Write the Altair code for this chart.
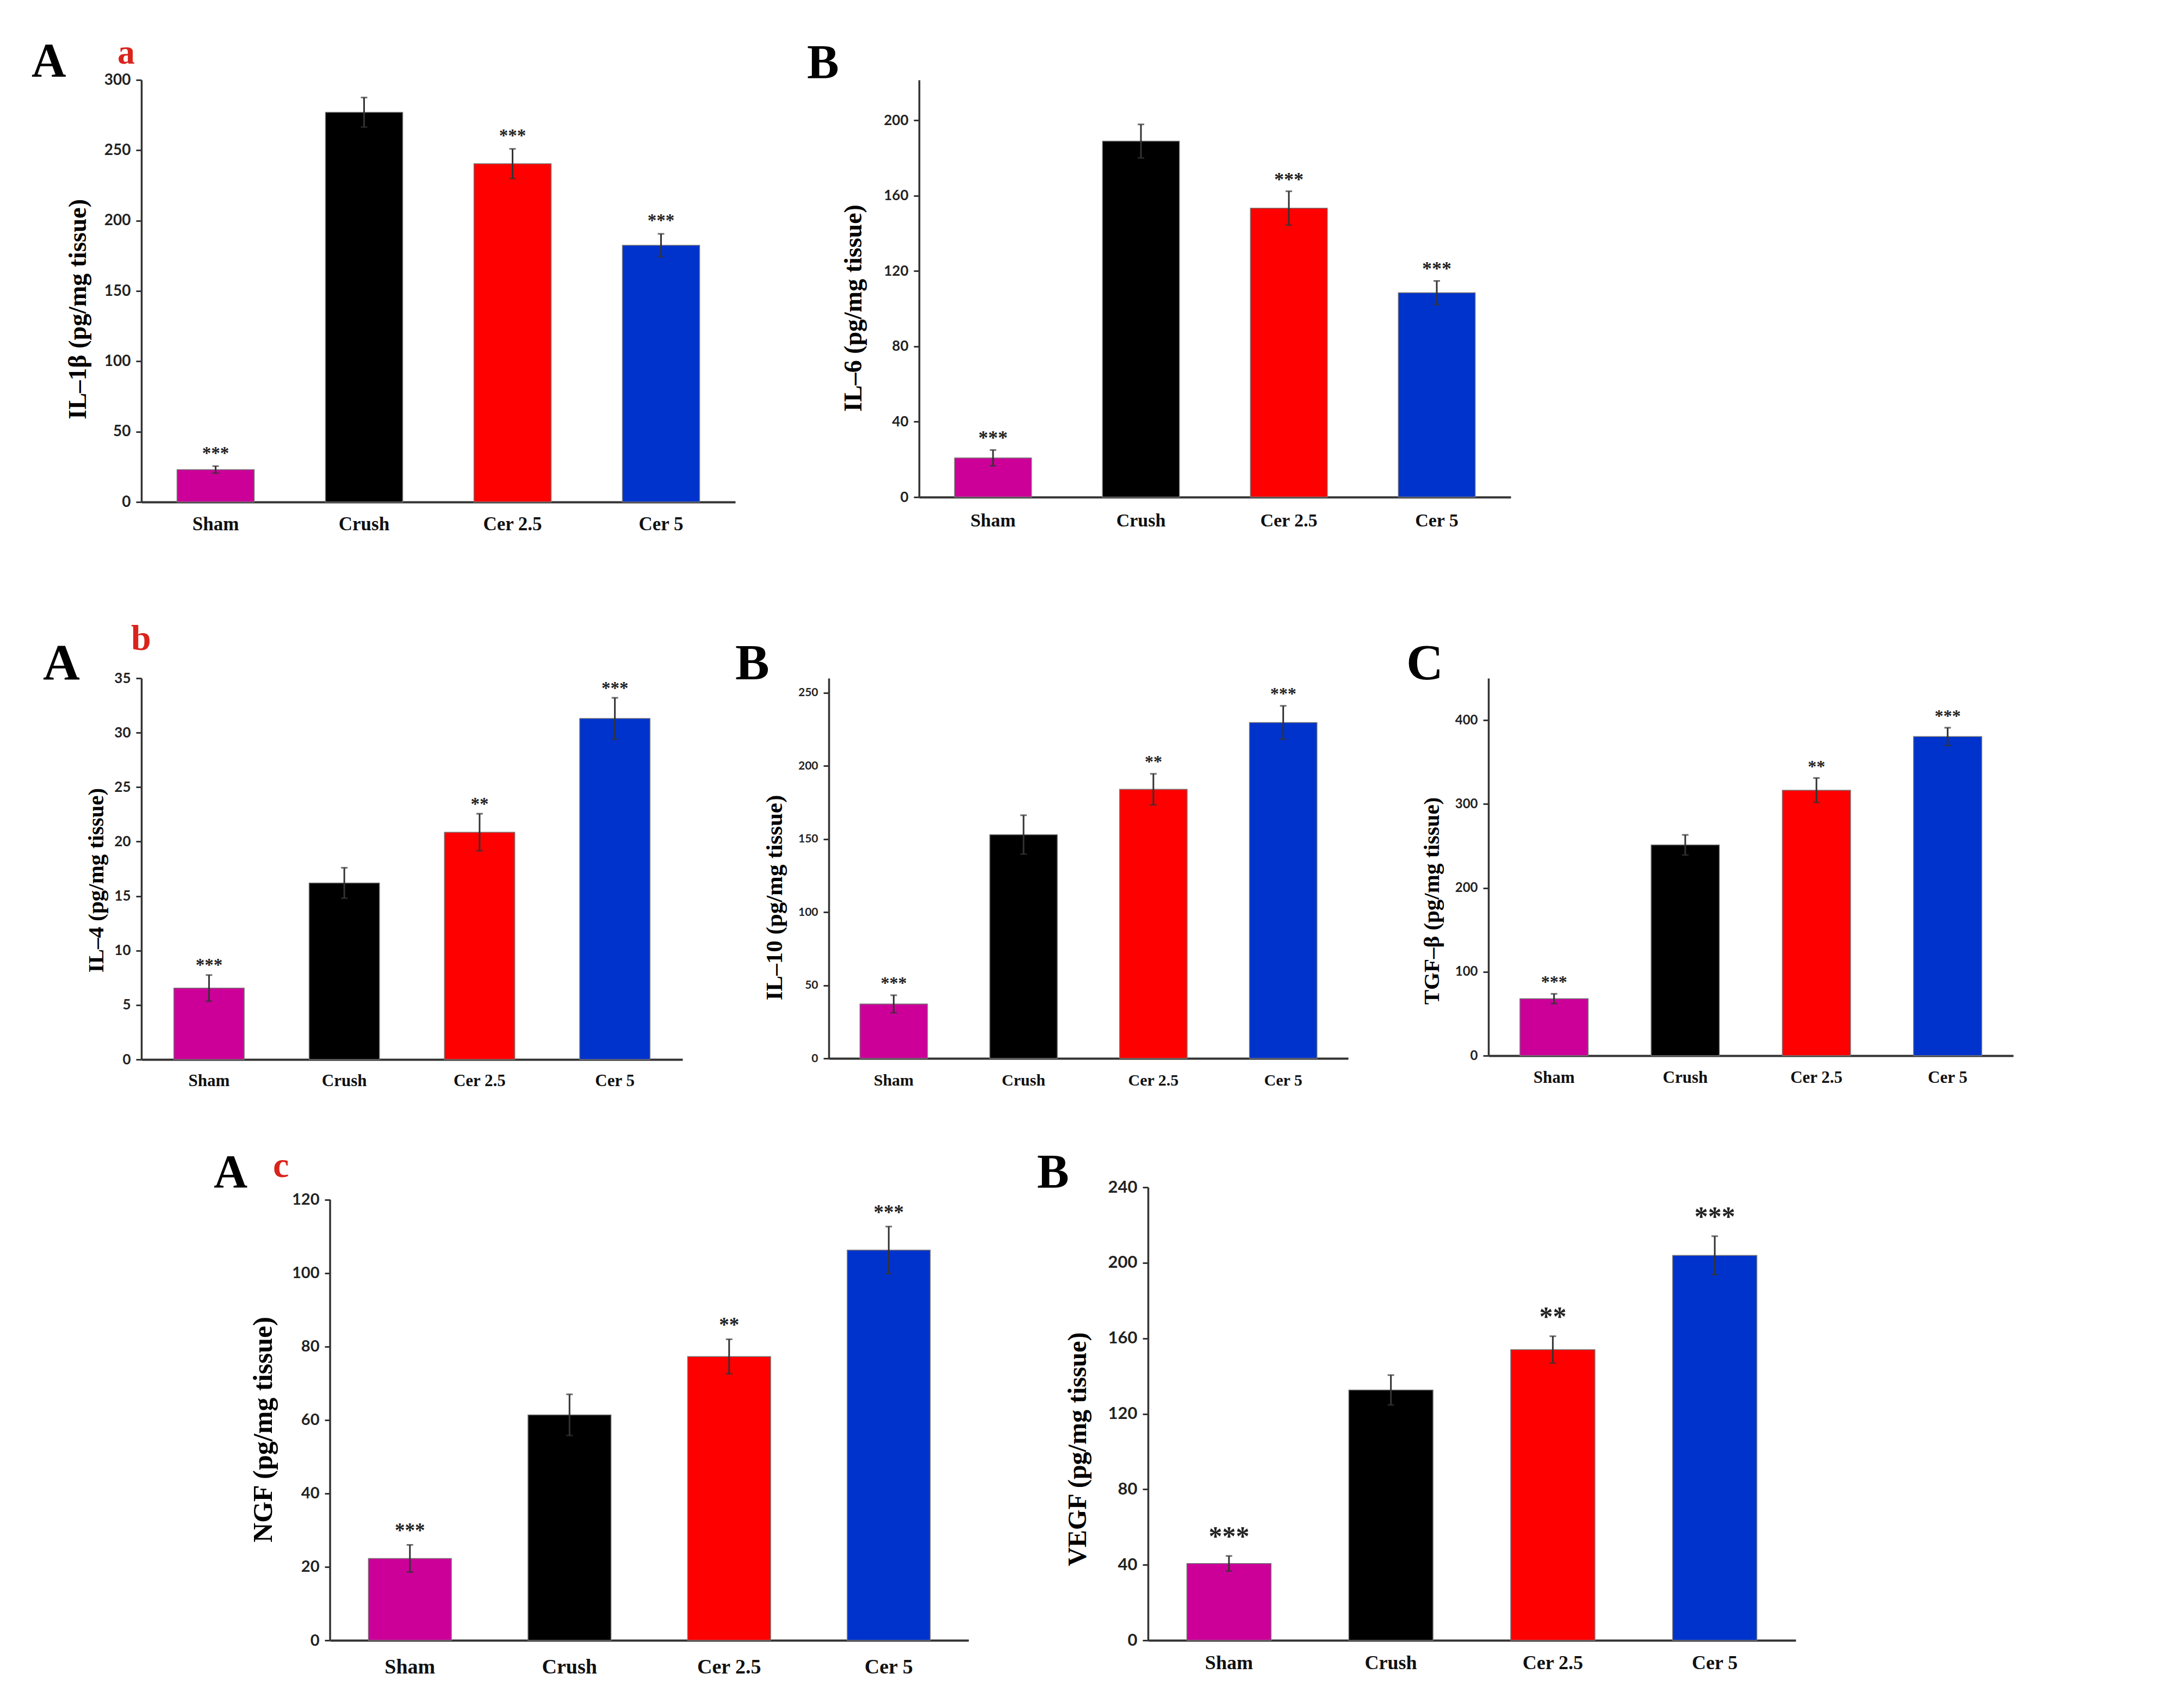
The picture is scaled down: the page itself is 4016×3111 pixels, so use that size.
import altair as alt
import pandas as pd

groups = ["Sham", "Crush", "Cer 2.5", "Cer 5"]
bar_colors = ["#CC0099", "#000000", "#FF0000", "#0033CC"]

il1b_mean = [23, 277, 240.5, 182.5]
il1b_sem = [2.5, 10.5, 10.5, 8.1]
il1b_sig = ["***", "", "***", "***"]

il6_mean = [20.8, 189, 153.4, 108.5]
il6_sem = [4.2, 8.9, 9.0, 6.3]
il6_sig = ["***", "", "***", "***"]

il4_mean = [6.55, 16.2, 20.86, 31.3]
il4_sem = [1.2, 1.4, 1.7, 1.9]
il4_sig = ["***", "", "**", "***"]

il10_mean = [37.2, 153, 184, 229.7]
il10_sem = [6.0, 13.3, 10.6, 11.4]
il10_sig = ["***", "", "**", "***"]

tgfb_mean = [67.9, 251.2, 316.5, 380.4]
tgfb_sem = [5.8, 12.0, 14.5, 10.6]
tgfb_sig = ["***", "", "**", "***"]

ngf_mean = [22.3, 61.4, 77.3, 106.3]
ngf_sem = [3.7, 5.6, 4.7, 6.4]
ngf_sig = ["***", "", "**", "***"]

vegf_mean = [40.7, 132.6, 154, 203.9]
vegf_sem = [4.0, 7.9, 7.1, 10.2]
vegf_sig = ["***", "", "**", "***"]

SERIF = "Liberation Serif"
SANS = "Lato"
RED = "#D9241C"
AXC = "#333333"


def panel(mean, sem, sig, ytitle, dmax, ticks, W, H, tick_fs, title_fs, title_xy,
          xlab_fs, xlab_pad, star_fs, star_gap, letters, axis_top=None):
    df = pd.DataFrame({
        "group": groups,
        "mean": mean,
        "lo": [m - s for m, s in zip(mean, sem)],
        "hi": [m + s for m, s in zip(mean, sem)],
        "sig": sig,
    })
    yscale = alt.Scale(domain=[0, dmax], nice=False, zero=True)
    yaxis = alt.Axis(
        values=ticks, grid=False, domain=axis_top is None, domainColor=AXC, domainWidth=3.5,
        tickColor=AXC, tickWidth=3, tickSize=10, labelFont=SANS, labelFontWeight="bold",
        labelFontSize=tick_fs, labelColor="#222222", labelPadding=10,
        titleFont=SERIF, titleFontWeight="bold", titleFontSize=title_fs, titleColor="black",
        titleX=title_xy[0], titleY=title_xy[1], titleAngle=270, titleBaseline="middle",
        titleAlign="center",
    )
    xaxis = alt.Axis(
        title=None, labelAngle=0, ticks=False, tickSize=0, domainColor=AXC, domainWidth=4,
        labelFont=SERIF, labelFontWeight="bold", labelFontSize=xlab_fs, labelColor="#111111",
        labelPadding=xlab_pad, labelBaseline="top",
    )
    X = alt.X("group:N", sort=groups, axis=xaxis,
              scale=alt.Scale(paddingInner=0.48, paddingOuter=0.24))

    def Y(field):
        return alt.Y(field, type="quantitative", scale=yscale, axis=yaxis, title=ytitle)

    base = alt.Chart(df)
    bars = base.mark_bar(stroke="#777777", strokeWidth=1.5).encode(
        x=X, y=Y("mean"),
        color=alt.Color("group:N", scale=alt.Scale(domain=groups, range=bar_colors), legend=None),
    )
    err = base.mark_rule(color=AXC, strokeWidth=3).encode(x=X, y=Y("lo"), y2="hi")
    cap_hi = base.mark_tick(color=AXC, thickness=3, size=12, orient="horizontal").encode(x=X, y=Y("hi"))
    cap_lo = base.mark_tick(color=AXC, thickness=3, size=12, orient="horizontal").encode(x=X, y=Y("lo"))
    stars = base.mark_text(font=SERIF, fontWeight="bold", fontSize=star_fs, color="#222222",
                           baseline="alphabetic", dy=-(star_gap - 0.5 * star_fs)).encode(
        x=X, y=Y("hi"), text="sig:N")
    layers = [bars, err, cap_hi, cap_lo, stars]
    if axis_top is not None:
        layers.append(
            alt.Chart(pd.DataFrame({"k": [0]})).mark_rule(color=AXC, strokeWidth=3.5).encode(
                x=alt.value(0),
                y=alt.Y(datum=0, type="quantitative", scale=yscale, axis=yaxis, title=ytitle),
                y2=alt.datum(axis_top),
            )
        )
    for (t, col, fs, lx, ly) in letters:
        layers.append(
            alt.Chart(pd.DataFrame({"k": [0]})).mark_text(
                text=t, font=SERIF, fontWeight="bold", fontSize=fs, color=col,
                align="left", baseline="alphabetic",
            ).encode(x=alt.value(lx), y=alt.value(ly))
        )
    return alt.layer(*layers).properties(width=W, height=H)


aA = panel(il1b_mean, il1b_sem, il1b_sig, "IL–1β (pg/mg tissue)", 300, [0, 50, 100, 150, 200, 250, 300],
           1092, 776, 28, 46, (-117, 421), 35, 23, 33, 30,
           [("A", "black", 88, -202, -7), ("a", RED, 64, -44, -30)])
aB = panel(il6_mean, il6_sem, il6_sig, "IL–6 (pg/mg tissue)", 221.5, [0, 40, 80, 120, 160, 200],
           1088, 767, 26, 46, (-121, 419), 34, 26, 36, 28,
           [("B", "black", 88, -206, -4)])

bA = panel(il4_mean, il4_sem, il4_sig, "IL–4 (pg/mg tissue)", 35, [0, 5, 10, 15, 20, 25, 30, 35],
           995, 701, 26, 41, (-83, 371), 31, 24, 33, 24,
           [("A", "black", 94, -181, 2), ("b", RED, 66, -19, -52)])
bB = panel(il10_mean, il10_sem, il10_sig, "IL–10 (pg/mg tissue)", 260, [0, 50, 100, 150, 200, 250],
           955, 699, 21, 43, (-100, 403), 30, 25, 32, 28,
           [("B", "black", 94, -172, 2)])
bC = panel(tgfb_mean, tgfb_sem, tgfb_sig, "TGF–β (pg/mg tissue)", 450, [0, 100, 200, 300, 400],
           965, 694, 24, 41, (-104, 409), 31, 25, 32, 27,
           [("C", "black", 94, -151, 2)])

cA = panel(ngf_mean, ngf_sem, ngf_sig, "NGF (pg/mg tissue)", 123.4, [0, 20, 40, 60, 80, 100, 120],
           1174, 833, 29, 50, (-123, 445), 38, 30, 37, 33,
           [("A", "black", 86, -214, 0), ("c", RED, 66, -105, -19)], axis_top=120)
cB = panel(vegf_mean, vegf_sem, vegf_sig, "VEGF (pg/mg tissue)", 240, [0, 40, 80, 120, 160, 200, 240],
           1191, 833, 31, 48, (-129, 481), 36, 24, 50, 45,
           [("B", "black", 88, -204, 0)])

# empty spacer view that pushes the bottom row to the right
spacer = alt.Chart(pd.DataFrame({"k": [0]})).mark_text(text=".", opacity=0, align="left", fontSize=10).encode(
    x=alt.value(0), y=alt.value(0)
).properties(width=20, height=10)

rowA = alt.hconcat(aA, aB, spacing=132)
rowB = alt.hconcat(alt.hconcat(bA, bB, spacing=97), bC, spacing=107)
rowC = alt.hconcat(spacer, alt.hconcat(cA, cB, spacing=126), spacing=113)

chart = alt.vconcat(alt.vconcat(rowA, rowB, spacing=161), rowC, spacing=109).properties(
    padding={"left": 58, "top": 66, "right": 5, "bottom": 5},
    background="white",
).configure_view(stroke=None)

chart.save("out.html", embed_options={"renderer": "svg", "actions": False})
